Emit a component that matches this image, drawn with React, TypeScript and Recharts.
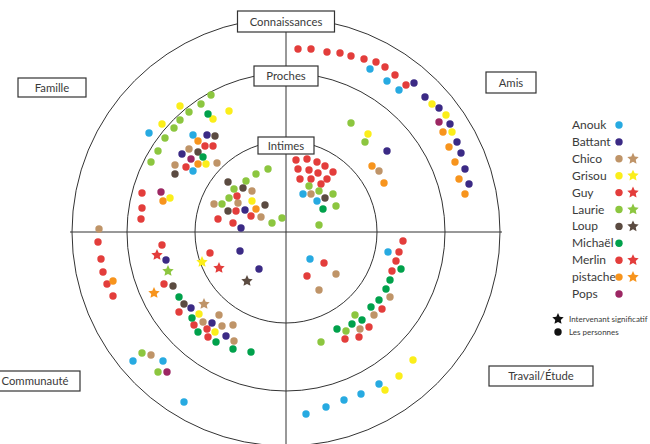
import React from 'react';
import { ScatterChart, Scatter, XAxis, YAxis, ReferenceDot, ReferenceLine, Legend } from 'recharts';

type P = [number, number];

// ---- categories / labels ----
const ringNames = ['Connaissances', 'Proches', 'Intimes'];
const ringRadii = [214, 159, 91];
const sectorNames = ['Famille', 'Amis', 'Communauté', 'Travail/Étude'];
const personNames = ['Anouk', 'Battant', 'Chico', 'Grisou', 'Guy', 'Laurie', 'Loup', 'Michaël', 'Merlin', 'pistache', 'Pops'];
const legendExtra = ['Intervenant significatif', 'Les personnes'];

// ---- data (x: right, y: up, centre = 0,0) ----
const anouk: P[] = [[-137, 99], [-93, 97], [-93, 61], [17, 38], [31, 31], [84, 163], [101, 151], [113, 142], [-153, -129], [-123, -129], [-102, -170], [24, -27], [102, -20], [93, -152], [75, -162], [58, -168], [40, -175], [20, -182]];
const battant: P[] = [[-79, 97], [-104, 78], [-41, 22], [-45, 4], [128, 149], [139, 135], [153, 124], [164, 108], [171, 90], [175, 79], [179, 63], [183, 48], [101, 81], [-120, -28], [-95, -76], [-74, -91], [-60, -104], [-46, -19], [-27, -37]];
const chico: P[] = [[-97, 83], [-111, 67], [-69, 69], [-34, 41], [-72, 28], [-48, 29], [-25, 15], [25, 38], [93, 61], [-187, 3], [-67, -83], [-83, -90], [-64, -94], [-53, -93], [-52, -109], [-135, -123], [50, -42], [33, -58], [104, -65], [88, -83], [74, -97]];
const grisou: P[] = [[-106, 126], [-57, 121], [-73, 113], [-124, 108], [-80, 68], [-116, 34], [-34, 31], [146, 128], [160, 117], [166, 100], [82, 98], [-87, -82], [-71, -100], [127, -128], [113, -144], [99, -158]];
const guy: P[] = [[-73, 86], [-81, 86], [-100, 65], [-144, 39], [-144, 24], [-145, 13], [-49, 36], [-50, 21], [-35, 16], [-68, 13], [-53, 9], [10, 72], [21, 73], [31, 70], [39, 66], [12, 63], [23, 62], [32, 59], [47, 60], [14, 53], [25, 53], [41, 53], [35, 48], [-188, -10], [-185, -27], [-183, -40], [-179, -52], [-173, -64], [-124, -13], [-122, -52], [-107, -80], [-92, -93], [-79, -97], [-78, -105], [-76, -21]];
const laurie: P[] = [[-85, 128], [-75, 137], [-97, 120], [-106, 112], [-112, 104], [-121, 94], [-128, 81], [-135, 70], [-18, 63], [-30, 58], [-40, 51], [-52, 43], [-57, 34], [-64, 28], [-4, 14], [-14, 9], [23, 46], [33, 41], [47, 38], [50, 26], [33, 7], [65, 109], [79, 90], [-144, -121], [-128, -140], [69, -83], [60, -99], [35, -110]];
const loup: P[] = [[-71, 96], [-88, 80], [-111, 58], [-58, 50], [-43, 44], [-21, 27], [-58, 21], [39, 34], [-113, -54], [-102, -72]];
const michael: P[] = [[-78, 118], [-83, 75], [37, 23], [-107, -65], [-94, -86], [-88, -100], [-70, -110], [-53, -117], [-35, -120], [115, -37], [104, -48], [100, -57], [93, -68], [85, -75], [76, -88], [66, -92], [51, -97]];
const merlin: P[] = [[12, 183], [25, 183], [41, 180], [54, 179], [65, 176], [78, 173], [90, 170], [99, 165], [109, 157], [120, 147], [38, -31], [21, -44], [117, -9], [113, -20], [110, -29], [106, -39], [96, -77], [83, -95], [73, -105], [59, -107]];
const pistache: P[] = [[-88, 91], [-88, 68], [-123, 31], [-30, 23], [157, 100], [163, 85], [169, 70], [173, 53], [179, 38], [86, 66], [98, 49], [-173, -49]];
const pops: P[] = [[-95, 73], [-125, 40], [153, 110], [-119, -140]];

const personPoints: Record<string, P[]> = {
  Anouk: anouk, Battant: battant, Chico: chico, Grisou: grisou, Guy: guy, Laurie: laurie,
  Loup: loup, 'Michaël': michael, Merlin: merlin, pistache: pistache, Pops: pops,
};
const significant: Record<string, P> = {
  Chico: [-82, -72], Grisou: [-84, -30], Guy: [-67, -36], Laurie: [-118, -39],
  Loup: [-39, -49], Merlin: [-129, -23], pistache: [-132, -61],
};

// ---- styles / layout ----
const colors: Record<string, string> = {
  Anouk: '#27aae1', Battant: '#3b2a85', Chico: '#bf9468', Grisou: '#fbee1a', Guy: '#e33d3b',
  Laurie: '#8cc63f', Loup: '#5b4b41', 'Michaël': '#00a14b', Merlin: '#e33d3b', pistache: '#f7941d', Pops: '#9c2763',
};
const labelBoxes: Record<string, { x: number; y: number; w: number; h: number }> = {
  Connaissances: { x: 0, y: 210.5, w: 97, h: 21 },
  Proches: { x: 0, y: 156, w: 64, h: 20 },
  Intimes: { x: 0, y: 86.5, w: 56, h: 17 },
  Famille: { x: -234, y: 144.5, w: 68, h: 19 },
  Amis: { x: 225, y: 149.5, w: 50, h: 21 },
  'Communauté': { x: -251, y: -149, w: 90, h: 20 },
  'Travail/Étude': { x: 255, y: -144, w: 104, h: 20 },
};
const FONT = 'Lato, "Open Sans", sans-serif';
const TEXT = '#3a3a3a';
const LINE = '#333';

function starPath(cx: number, cy: number, R: number) {
  const r = R * 0.48;
  let d = '';
  for (let i = 0; i < 10; i++) {
    const a = -Math.PI / 2 + (i * Math.PI) / 5;
    const rad = i % 2 ? r : R;
    d += (i ? 'L' : 'M') + (cx + rad * Math.cos(a)).toFixed(2) + ',' + (cy + rad * Math.sin(a)).toFixed(2);
  }
  return d + 'Z';
}

const toRows = (pts: P[]) => pts.map(([x, y]) => ({ x, y }));

const boxShape = (name: string, w: number, h: number) => (props: any) => (
  <g>
    <rect x={props.cx - w / 2} y={props.cy - h / 2} width={w} height={h} fill="#fff" stroke={LINE} strokeWidth={1.2} />
    <text x={props.cx} y={props.cy + 4} textAnchor="middle" fontFamily={FONT} fontSize={11.3} fill={TEXT}>{name}</text>
  </g>
);

const LegendContent = () => {
  const y0 = 15;
  const step = 16.9;
  return (
    <svg width={100} height={235} style={{ overflow: 'visible' }}>
      {personNames.map((n, i) => {
        const y = y0 + i * step;
        return (
          <g key={n}>
            <text x={22} y={y + 4} fontFamily={FONT} fontSize={12} fill={TEXT}>{n}</text>
            <circle cx={69} cy={y} r={3.7} fill={colors[n]} />
            {significant[n] && <path d={starPath(83, y, 6)} fill={colors[n]} />}
          </g>
        );
      })}
      <path d={starPath(8, 209, 6)} fill="#111" />
      <text x={19} y={212} fontFamily={FONT} fontSize={8} fill={TEXT}>{legendExtra[0]}</text>
      <circle cx={8} cy={222} r={3.7} fill="#111" />
      <text x={19} y={225} fontFamily={FONT} fontSize={8} fill={TEXT}>{legendExtra[1]}</text>
    </svg>
  );
};

export default function App() {
  const allLabels = [...ringNames, ...sectorNames];
  return (
    <div style={{ position: 'absolute', left: 0, top: 0, background: '#fff' }}>
      <ScatterChart width={650} height={444} margin={{ top: 0, right: 0, bottom: 0, left: 0 }}>
        <XAxis type="number" dataKey="x" domain={[-286, 364]} hide allowDataOverflow />
        <YAxis type="number" dataKey="y" domain={[-212, 232]} hide allowDataOverflow />
        {ringRadii.map((r, i) => (
          <ReferenceDot key={'ring' + i} x={0} y={0} r={r} fill="none" stroke={LINE} strokeWidth={1} ifOverflow="visible" />
        ))}
        <ReferenceLine segment={[{ x: -216, y: 0 }, { x: 216, y: 0 }]} stroke={LINE} strokeWidth={1} ifOverflow="visible" />
        <ReferenceLine segment={[{ x: 0, y: 214 }, { x: 0, y: -212 }]} stroke={LINE} strokeWidth={1} ifOverflow="visible" />
        {allLabels.map((n) => {
          const b = labelBoxes[n];
          return <ReferenceDot key={n} x={b.x} y={b.y} r={1} ifOverflow="visible" shape={boxShape(n, b.w, b.h)} />;
        })}
        {personNames.map((n) => (
          <Scatter
            key={n}
            name={n}
            data={toRows(personPoints[n])}
            fill={colors[n]}
            isAnimationActive={false}
            shape={(p: any) => <circle cx={p.cx} cy={p.cy} r={3.7} fill={colors[n]} />}
          />
        ))}
        <Scatter
          name="significatif"
          data={Object.keys(significant).map((n) => ({ x: significant[n][0], y: significant[n][1], who: n }))}
          isAnimationActive={false}
          shape={(p: any) => <path d={starPath(p.cx, p.cy, 6)} fill={colors[p.payload.who]} />}
        />
        <Legend
          layout="vertical"
          align="center"
          verticalAlign="middle"
          content={LegendContent}
          wrapperStyle={{ left: 550, top: 110, width: 100, height: 235 }}
        />
      </ScatterChart>
    </div>
  );
}
